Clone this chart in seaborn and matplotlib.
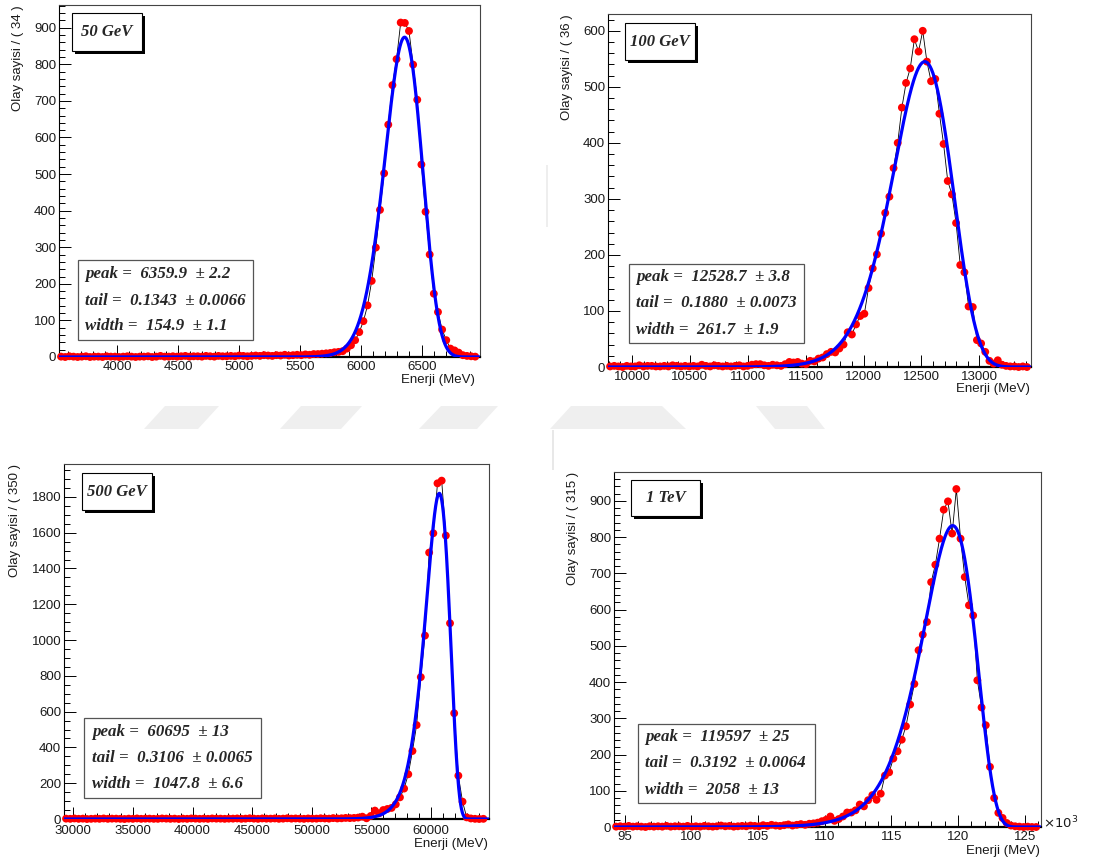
import numpy as np
import pandas as pd
import matplotlib
matplotlib.use("Agg")
import matplotlib.pyplot as plt
from matplotlib.ticker import MultipleLocator, FuncFormatter
from matplotlib.patches import Rectangle, Polygon
import seaborn as sns

sns.set_theme(style="ticks")
plt.rcParams["font.family"] = ["Liberation Sans", "DejaVu Sans"]

# ---------------------------------------------------------------- data
energy_labels = ["50 GeV", "100 GeV", "500 GeV", "1 TeV"]
bin_width = [34, 36, 350, 315]                 # MeV per bin
x_lo = [3523, 9793, 29220, 94200]              # plotted energy range (MeV)
x_hi = [6979, 13446, 64865, 126220]
y_hi = [962, 630, 1984, 980]

counts_50gev = [
    1, 0, 2, 1, 0, 1, 2, 0, 1, 1,
    0, 2, 1, 1, 0, 1, 2, 1, 0, 1,
    1, 2, 0, 1, 3, 1, 1, 2, 1, 2,
    3, 1, 2, 2, 1, 3, 2, 1, 3, 2,
    2, 3, 2, 4, 3, 2, 3, 4, 3, 5,
    4, 3, 5, 4, 6, 4, 5, 6, 5, 7,
    6, 8, 8, 9, 10, 11, 13, 14, 16, 23,
    32, 46, 68, 98, 141, 208, 299, 402, 502, 635,
    743, 814, 914, 913, 891, 799, 703, 526, 397, 280,
    173, 123, 75, 46, 23, 18, 12, 5, 3, 2,
    1]
counts_100gev = [
    1, 2, 1, 0, 2, 1, 1, 3, 1, 2,
    2, 1, 1, 2, 1, 3, 2, 1, 2, 1,
    2, 1, 4, 2, 1, 3, 2, 1, 2, 1,
    2, 3, 1, 2, 4, 5, 5, 3, 2, 4,
    3, 2, 5, 9, 8, 9, 6, 5, 11, 10,
    15, 17, 23, 27, 26, 33, 40, 62, 58, 76,
    91, 95, 141, 176, 201, 238, 275, 304, 355, 400,
    463, 507, 533, 585, 563, 600, 545, 510, 514, 452,
    398, 332, 308, 257, 182, 169, 108, 107, 48, 42,
    27, 11, 6, 12, 4, 2, 1, 1, 0, 1,
    0]
counts_500gev = [
    2, 1, 3, 1, 2, 0, 1, 2, 1, 3,
    1, 2, 2, 1, 0, 2, 1, 3, 1, 2,
    2, 1, 1, 3, 2, 1, 2, 0, 2, 1,
    3, 2, 1, 2, 1, 3, 2, 2, 1, 2,
    2, 3, 1, 2, 4, 2, 1, 3, 2, 2,
    3, 1, 2, 4, 2, 3, 2, 1, 3, 2,
    2, 4, 3, 2, 5, 3, 4, 6, 5, 6,
    8, 13, 4, 17, 47, 32, 50, 56, 62, 82,
    121, 170, 250, 380, 525, 793, 1025, 1489, 1597, 1876,
    1891, 1584, 1094, 591, 242, 97, 9, 3, 1, 0,
    1]
counts_1tev = [
    1, 2, 1, 3, 1, 2, 1, 0, 2, 1,
    2, 1, 3, 1, 2, 2, 1, 3, 1, 2,
    1, 3, 2, 1, 2, 4, 2, 3, 1, 2,
    3, 2, 4, 3, 2, 5, 3, 6, 4, 3,
    5, 7, 4, 6, 8, 6, 9, 10, 12, 16,
    20, 29, 17, 22, 29, 40, 40, 46, 62, 57,
    74, 88, 75, 92, 142, 151, 189, 209, 241, 278,
    338, 395, 488, 531, 566, 676, 724, 796, 876, 899,
    810, 933, 796, 690, 612, 584, 405, 330, 281, 166,
    80, 39, 25, 11, 4, 2, 1, 0, 1, 0,
    0]
panel_counts = [counts_50gev, counts_100gev, counts_500gev, counts_1tev]

# Novosibirsk fit results
fit_peak = [6359.9, 12528.7, 60695, 119597]
fit_tail = [0.1343, 0.1880, 0.3106, 0.3192]
fit_width = [154.9, 261.7, 1047.8, 2058]
fit_height = [874, 545, 1820, 832]
peak_text = ["6359.9", "12528.7", "60695", "119597"]
peak_err_text = ["2.2", "3.8", "13", "25"]
tail_text = ["0.1343", "0.1880", "0.3106", "0.3192"]
tail_err_text = ["0.0066", "0.0073", "0.0065", "0.0064"]
width_text = ["154.9", "261.7", "1047.8", "2058"]
width_err_text = ["1.1", "1.9", "6.6", "13"]


def novosibirsk(x, peak, width, tail):
    arg = 1.0 - (x - peak) * tail / width
    out = np.zeros_like(x, dtype=float)
    ok = arg > 1e-7
    xi = 2.3548200450309494
    w0 = (2.0 / xi) * np.arcsinh(tail * xi * 0.5)
    w02 = w0 * w0
    lg = np.log(arg[ok])
    out[ok] = np.exp(-0.5 / w02 * lg * lg - 0.5 * w02)
    return out / np.exp(-0.5 * w02)


# ---------------------------------------------------------------- layout
W, H = 1104, 861
fig = plt.figure(figsize=(W / 100, H / 100), dpi=100)
fig.patch.set_facecolor("white")


def fx(x):
    return x / W


def fy(y):
    return 1 - y / H


# background watermark
wm = "#efefef"
band_top, band_bot = 406, 429
for (tl, tr, br, bl) in [(165, 219, 198, 144), (301, 362, 341, 280),
                         (441, 498, 477, 419), (571, 662, 686, 550)]:
    fig.patches.append(Polygon([(fx(tl), fy(band_top)), (fx(tr), fy(band_top)),
                                (fx(br), fy(band_bot)), (fx(bl), fy(band_bot))],
                               closed=True, transform=fig.transFigure,
                               facecolor=wm, edgecolor="none", zorder=0))
fig.patches.append(Polygon([(fx(756), fy(band_top)), (fx(807), fy(band_top)),
                            (fx(825), fy(band_bot)), (fx(775), fy(band_bot))],
                           closed=True, transform=fig.transFigure,
                           facecolor=wm, edgecolor="none", zorder=0))
fig.patches.append(Rectangle((fx(552), fy(470)), 2 / W, 40 / H, transform=fig.transFigure,
                             facecolor="#e8e8e8", edgecolor="none", zorder=0))
fig.patches.append(Rectangle((fx(546), fy(227)), 2 / W, 62 / H, transform=fig.transFigure,
                             facecolor="#eeeeee", edgecolor="none", zorder=0))

axes_px = [(59, 5, 480, 357), (608, 14, 1031, 367), (64, 464, 489, 819), (614, 472, 1041, 827)]
x_major = [500, 500, 5000, 5000]
x_minor = [100, 100, 1000, 1000]
y_major = [100, 100, 200, 100]
y_minor = [20, 20, 50, 20]
x_pad = [3, 3, 4.5, 3]
ylabel_px = [(18, 5), (567, 14), (15, 464), (573, 472)]
xlabel_px = [(475, 380), (1030, 389), (488, 844), (1040, 851)]
title_px = [(72, 13, 142, 51), (625, 23, 695, 60), (82, 473, 152, 510), (631, 480, 700, 516)]
param_box_px = [(78, 260, 253, 340), (629, 264, 804, 343), (84, 718, 261, 798), (638, 724, 815, 803)]
param_text_px = [(85, (274, 301, 326)), (636, (277, 303, 330)),
                 (92, (732, 758, 784)), (645, (737, 763, 790))]

serif_bi = dict(family=["Liberation Serif", "DejaVu Serif"], weight="bold", style="italic")
label_size = 9.5

for k in range(4):
    l, t, r, b = axes_px[k]
    ax = fig.add_axes([fx(l), fy(b), (r - l) / W, (b - t) / H])
    ax.set_facecolor("white")

    counts = np.array(panel_counts[k], dtype=float)
    centers = x_lo[k] + bin_width[k] * (np.arange(len(counts)) + 0.5)
    data = pd.DataFrame({"E": centers, "N": counts})

    xs = np.linspace(x_lo[k], x_hi[k], 1500)
    curve = pd.DataFrame({"E": xs,
                          "f": fit_height[k] * novosibirsk(xs, fit_peak[k], fit_width[k], fit_tail[k])})

    sns.lineplot(data=data, x="E", y="N", ax=ax, color="black", linewidth=0.6,
                 estimator=None, sort=False, zorder=2)
    sns.scatterplot(data=data, x="E", y="N", ax=ax, color="#ff0000", s=32,
                    edgecolor="none", linewidth=0, zorder=3)
    for coll in ax.collections:
        coll.set_clip_on(False)
    sns.lineplot(data=curve, x="E", y="f", ax=ax, color="#0000ff", linewidth=2.3,
                 estimator=None, sort=False, zorder=4)

    ax.set_xlim(x_lo[k], x_hi[k])
    ax.set_ylim(0, y_hi[k])
    ax.set_xlabel("")
    ax.set_ylabel("")

    ax.xaxis.set_major_locator(MultipleLocator(x_major[k]))
    ax.xaxis.set_minor_locator(MultipleLocator(x_minor[k]))
    ax.yaxis.set_major_locator(MultipleLocator(y_major[k]))
    ax.yaxis.set_minor_locator(MultipleLocator(y_minor[k]))
    if k == 3:
        ax.xaxis.set_major_formatter(FuncFormatter(lambda v, p: f"{v / 1000:g}"))
    else:
        ax.xaxis.set_major_formatter(FuncFormatter(lambda v, p: f"{v:g}"))

    ax.tick_params(which="both", direction="in", top=False, right=False,
                   color="black", width=0.7)
    ax.tick_params(which="major", length=8.5, labelsize=label_size, labelcolor="#1a1a1a")
    ax.tick_params(which="minor", length=4.3)
    ax.tick_params(axis="x", which="major", pad=x_pad[k])
    ax.tick_params(axis="y", which="major", pad=2)

    for side in ["left", "bottom"]:
        ax.spines[side].set_color("black")
    ax.spines["left"].set_linewidth(0.8)
    ax.spines["bottom"].set_linewidth(1.6)
    for side in ["top", "right"]:
        ax.spines[side].set_color("#444444")
        ax.spines[side].set_linewidth(0.8)

    # axis titles
    lx, ly = ylabel_px[k]
    fig.text(fx(lx), fy(ly), f"Olay sayisi / ( {bin_width[k]} )", rotation=90,
             ha="center", va="top", fontsize=label_size, color="#1a1a1a")
    tx, ty = xlabel_px[k]
    fig.text(fx(tx), fy(ty), "Enerji (MeV)", ha="right", va="center",
             fontsize=label_size, color="#1a1a1a")

    # energy title box with shadow
    x0, y0, x1, y1 = title_px[k]
    fig.patches.append(Rectangle((fx(x0 + 3), fy(y1 + 3)), (x1 - x0) / W, (y1 - y0) / H,
                                 transform=fig.transFigure, facecolor="black",
                                 edgecolor="none", zorder=5))
    fig.patches.append(Rectangle((fx(x0), fy(y1)), (x1 - x0) / W, (y1 - y0) / H,
                                 transform=fig.transFigure, facecolor="white",
                                 edgecolor="black", linewidth=0.8, zorder=6))
    fig.text(fx((x0 + x1) / 2), fy((y0 + y1) / 2), energy_labels[k], ha="center",
             va="center", fontsize=12, zorder=7, **serif_bi)

    # fit parameter box
    x0, y0, x1, y1 = param_box_px[k]
    fig.patches.append(Rectangle((fx(x0), fy(y1)), (x1 - x0) / W, (y1 - y0) / H,
                                 transform=fig.transFigure, facecolor="white",
                                 edgecolor="#555555", linewidth=0.9, zorder=6))
    px0, rows = param_text_px[k]
    lines = [f"peak =  {peak_text[k]}  \u00b1 {peak_err_text[k]}",
             f"tail =  {tail_text[k]}  \u00b1 {tail_err_text[k]}",
             f"width =  {width_text[k]}  \u00b1 {width_err_text[k]}"]
    for line, row in zip(lines, rows):
        fig.text(fx(px0), fy(row), line, ha="left", va="center", fontsize=12.2,
                 zorder=7, **serif_bi)

fig.text(fx(1043), fy(823), r"$\times10^{3}$", ha="left", va="center",
         fontsize=label_size, color="#1a1a1a")

fig.savefig("out.png", dpi=100, facecolor="white")
